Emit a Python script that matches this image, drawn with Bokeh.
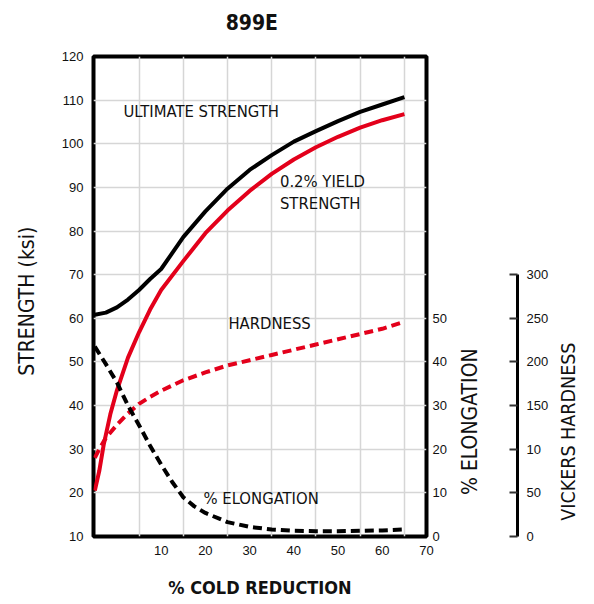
import math
from bokeh.plotting import figure
from bokeh.models import Range1d, LinearAxis, FixedTicker, Label
from bokeh.embed import file_html
from bokeh.resources import INLINE

# ---- data ----
reduction = [-5, -2.5, 0, 2.5, 5, 7.5, 10, 15, 20, 25, 30, 35, 40, 45, 50, 55, 60, 65]
ultimate_ksi = [60.8, 61.3, 62.5, 64.3, 66.5, 69.0, 71.3, 78.6, 84.5, 89.7, 94.0, 97.4,
                100.5, 102.9, 105.2, 107.3, 109.0, 110.7]

yield_x = [-5, -4, -3, -1.5, 0, 2.5, 5, 7.5, 10, 15, 20, 25, 30, 35, 40, 45, 50, 55, 60, 65]
yield_ksi = [20.5, 25.0, 31.0, 38.0, 43.5, 51.0, 56.8, 62.0, 66.5, 73.1, 79.5, 84.7, 89.2,
             93.1, 96.4, 99.2, 101.6, 103.7, 105.4, 106.8]

hard_x = [-5, -4, -2.5, 0, 2.5, 5, 7.5, 10, 15, 20, 25, 30, 35, 40, 45, 50, 55, 60, 65]
hardness_hv = [90, 100, 113, 128, 141, 152, 160, 167, 179, 188, 196, 202, 208, 214, 220,
               226, 232, 238, 246]

elong_x = [-5, -2.5, 0, 2.5, 5, 7.5, 10, 12.5, 15, 17.5, 20, 25, 30, 35, 40, 45, 50, 55, 60, 65]
elongation_pct = [43.5, 39.5, 35.3, 30.0, 25.5, 20.8, 16.5, 12.5, 9.0, 6.9, 5.4, 3.3, 2.2,
                  1.6, 1.3, 1.2, 1.2, 1.3, 1.4, 1.6]

x_ticks = [10, 20, 30, 40, 50, 60, 70]
x_grid = [5, 15, 25, 35, 45, 55, 65]
strength_ticks = [10, 20, 30, 40, 50, 60, 70, 80, 90, 100, 110, 120]
elong_ticks = [0, 10, 20, 30, 40, 50]
hv_ticks = [0, 50, 100, 150, 200, 250, 300]
hv_tick_labels = ["0", "50", "10", "150", "200", "250", "300"]

title_text = "899E"
x_title = "% COLD REDUCTION"
strength_title = "STRENGTH (ksi)"
elong_title = "% ELONGATION"
hv_title_text = "VICKERS HARDNESS"

RED = "#E3001B"
COND = "'Noto Sans Condensed', 'DejaVu Sans Condensed', 'Liberation Sans Narrow', 'Liberation Sans', sans-serif"
REG = "Liberation Sans"
TXT = "#111111"

p = figure(width=594, height=604, output_backend="svg", toolbar_location=None,
           x_range=Range1d(-5.3, 70), y_range=Range1d(10, 120),
           min_border_left=93, min_border_right=167, min_border_top=56, min_border_bottom=68)
p.extra_y_ranges = {"elong": Range1d(0, 110), "hv": Range1d(0, 550)}
p.title.text = ""
p.title.visible = False

p.outline_line_color = "black"
p.outline_line_width = 4
p.background_fill_color = "white"
p.border_fill_color = "white"

# grid
p.xgrid.ticker = FixedTicker(ticks=x_grid)
p.ygrid.ticker = FixedTicker(ticks=strength_ticks)
for g in (p.xgrid, p.ygrid):
    g.grid_line_color = "#d6d6d6"
    g.grid_line_width = 1.5

def bare(ax, standoff, font=REG, size="13px", style="normal"):
    ax.axis_line_color = None
    ax.major_tick_line_color = None
    ax.minor_tick_line_color = None
    ax.major_tick_out = 0
    ax.major_tick_in = 0
    ax.minor_tick_out = 0
    ax.minor_tick_in = 0
    ax.major_label_standoff = standoff
    ax.major_label_text_font = font
    ax.major_label_text_font_size = size
    ax.major_label_text_font_style = style
    ax.major_label_text_color = TXT

def title_axis(range_name, where, pos, text, standoff, size="21px", style="normal",
               orientation=math.pi / 2):
    kw = {} if range_name is None else dict(y_range_name=range_name)
    ax = LinearAxis(ticker=FixedTicker(ticks=[pos]), major_label_overrides={pos: text}, **kw)
    bare(ax, standoff, font=COND, size=size, style=style)
    ax.major_label_orientation = orientation
    p.add_layout(ax, where)
    return ax

# bottom axis
xax = p.xaxis[0]
xax.ticker = FixedTicker(ticks=x_ticks)
bare(xax, 9)
xax.axis_label = x_title
xax.axis_label_text_font = COND
xax.axis_label_text_font_size = "18px"
xax.axis_label_text_font_style = "bold"
xax.axis_label_text_color = TXT
xax.axis_label_standoff = 19

# chart title as a label of an upper axis
title_axis(None, "above", 30.5, title_text, 22, size="21px", style="bold",
           orientation="horizontal")

# left strength axis and its title
yax = p.yaxis[0]
yax.ticker = FixedTicker(ticks=strength_ticks)
bare(yax, 10)
title_axis(None, "left", 81, strength_title, 31)

# right elongation axis and its title
elong_axis = LinearAxis(y_range_name="elong", ticker=FixedTicker(ticks=elong_ticks))
bare(elong_axis, 6)
p.add_layout(elong_axis, "right")
title_axis("elong", "right", 9.5, elong_title, 21)

# empty spacer panel between the elongation and hardness scales
spacer = LinearAxis(y_range_name="elong", ticker=FixedTicker(ticks=[0]))
spacer.axis_line_color = None
spacer.major_tick_line_color = "white"
spacer.major_tick_line_width = 1
spacer.major_tick_out = 20
spacer.major_tick_in = 0
spacer.minor_tick_line_color = None
spacer.minor_tick_out = 0
spacer.major_label_standoff = 0
spacer.major_label_text_color = None
p.add_layout(spacer, "right")

# Vickers hardness scale
hv_axis = LinearAxis(y_range_name="hv", ticker=FixedTicker(ticks=hv_ticks),
                     bounds=(0, 300),
                     major_label_overrides=dict(zip(hv_ticks, hv_tick_labels)))
hv_axis.axis_line_color = "black"
hv_axis.axis_line_width = 3
hv_axis.major_tick_line_color = "#333333"
hv_axis.major_tick_line_width = 2
hv_axis.major_tick_in = 8
hv_axis.major_tick_out = 0
hv_axis.minor_tick_line_color = None
hv_axis.minor_tick_out = 0
hv_axis.minor_tick_in = 0
hv_axis.major_label_standoff = 9
hv_axis.major_label_text_font = REG
hv_axis.major_label_text_font_size = "13px"
hv_axis.major_label_text_color = TXT
p.add_layout(hv_axis, "right")
title_axis("hv", "right", 18, hv_title_text, 17, size="19.5px")

# curves
p.line(reduction, ultimate_ksi, line_color="black", line_width=4, line_join="round")
p.line(yield_x, yield_ksi, line_color=RED, line_width=4, line_join="round")
p.line(hard_x, hardness_hv, y_range_name="hv", line_color=RED, line_width=4,
       line_dash="9 5")
p.line(elong_x, elongation_pct, y_range_name="elong", line_color="black", line_width=4,
       line_dash="9 5")

def lab(x, y, text, size="16.5px"):
    p.add_layout(Label(x=x, y=y, text=text, text_font=COND, text_font_size=size,
                       text_color=TXT, text_align="left", text_baseline="middle"))

# in-plot curve labels
lab(1.46, 107.3, "ULTIMATE STRENGTH")
lab(36.86, 91.24, "0.2% YIELD")
lab(36.86, 86.24, "STRENGTH")
lab(25.2, 58.74, "HARDNESS")
lab(19.57, 18.82, "% ELONGATION")

open("out.html", "w").write(file_html(p, INLINE))
